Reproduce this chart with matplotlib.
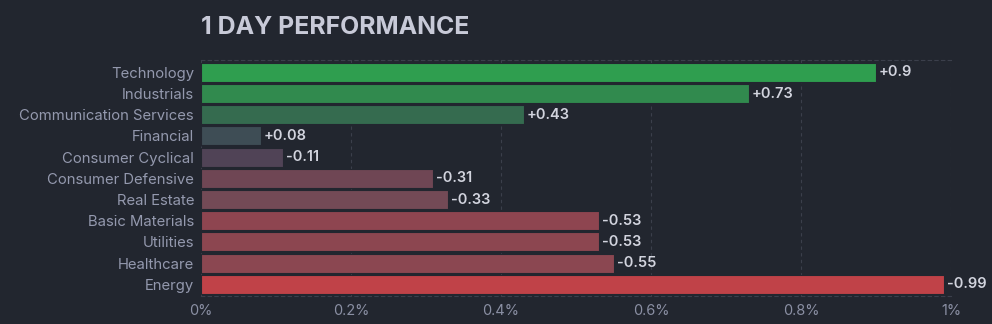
import matplotlib.pyplot as plt
from matplotlib.ticker import FuncFormatter

sectors = ["Technology", "Industrials", "Communication Services", "Financial",
           "Consumer Cyclical", "Consumer Defensive", "Real Estate",
           "Basic Materials", "Utilities", "Healthcare", "Energy"]
changes = [0.9, 0.73, 0.43, 0.08, -0.11, -0.31, -0.33, -0.53, -0.53, -0.55, -0.99]
colors = ["#2f9e4f", "#318a4e", "#356b4f", "#3e4d55", "#504356", "#6f4654",
          "#734a56", "#8e4550", "#8c4650", "#8b4751", "#c04248"]

bg = "#22262f"
plt.rcParams['font.family'] = ['Inter', 'DejaVu Sans']

fig = plt.figure(figsize=(9.92, 3.24), dpi=100, facecolor=bg)
ax = fig.add_axes([0.2026, 0.0864, 0.7561, 0.7284], facecolor=bg)

y = list(range(len(sectors)))
sizes = [abs(v) for v in changes]
ax.barh(y, sizes, height=0.9, color=colors, edgecolor=bg, linewidth=0.8, zorder=3)

for yi, v in zip(y, changes):
    txt = ("+" if v > 0 else "") + str(v)
    ax.text(abs(v) + 0.004, yi, txt, va="center", ha="left", fontsize=10.5,
            fontweight="semibold", color="#d2d4de", zorder=4)

ax.set_xlim(0, 1.0)
ax.set_ylim(10.55, -0.58)
ax.set_yticks(y)
ax.set_yticklabels(sectors)
ax.set_xticks([0, 0.2, 0.4, 0.6, 0.8, 1.0])
ax.xaxis.set_major_formatter(FuncFormatter(lambda x, p: ("%g" % round(x, 1)) + "%"))
ax.tick_params(axis="y", length=0, pad=5, labelsize=10.7, labelcolor="#9499ae")
ax.tick_params(axis="x", length=0, pad=6, labelsize=10.5, labelcolor="#8a8fa3")

ax.grid(axis="x", color="#3b3f4b", linestyle=(0, (3, 3)), linewidth=0.8, zorder=0)
for s in ["left", "right"]:
    ax.spines[s].set_visible(False)
for s in ["top", "bottom"]:
    ax.spines[s].set_color("#3b3f4b")
    ax.spines[s].set_linestyle((0, (3, 3)))
    ax.spines[s].set_linewidth(0.8)

fig.text(0.2026, 0.915, "1 DAY PERFORMANCE", fontsize=17.9, fontweight="bold",
         color="#c8cad8", ha="left", va="center")

fig.savefig("out.png", dpi=100, facecolor=bg)
